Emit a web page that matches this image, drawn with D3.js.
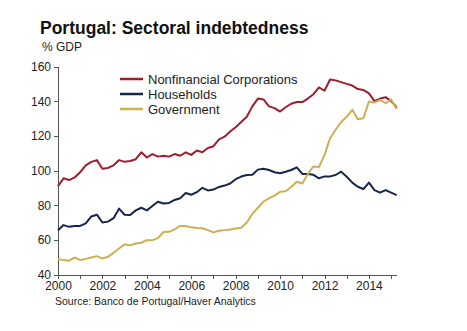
<!DOCTYPE html>
<html>
<head>
<meta charset="utf-8">
<script src="https://cdnjs.cloudflare.com/ajax/libs/d3/7.8.5/d3.min.js"></script>
<style>
  body { margin: 0; background: #fff; }
  svg { display: block; font-family: "Liberation Sans", Arial, sans-serif; }
  .axis path, .axis line { stroke: #555; shape-rendering: crispEdges; }
  .axis text { fill: #222; font-size: 12px; }
</style>
</head>
<body>
<div id="chart"></div>
<script>
// quarterly, 2000Q1 .. 2015Q2, % of GDP
var startYear = 2000;
var corporations = [91, 95.5, 94.5, 96, 99, 103, 105, 106, 101, 101.5,
  103, 106, 105, 105.5, 106.5, 110.5, 107.5, 109.5, 108, 108.5,
  108, 109.5, 108.5, 110.5, 109, 111.5, 110.5, 113, 114, 118,
  119.5, 122.5, 125, 128, 131, 137, 141.5, 141, 137, 136,
  134, 136.5, 138.5, 139.5, 139.5, 141.5, 144, 148, 146, 152.5,
  152, 151, 150, 149, 147, 146.5, 144.5, 140, 141.5, 142.3,
  140, 136.5];
var households = [65.5, 68.5, 67.5, 68, 68, 69.5, 73.5, 74.5, 70, 70.5,
  72.5, 78, 74.5, 74.3, 77, 78.5, 77, 79.5, 82, 81,
  81.3, 83, 84, 87, 86, 87.5, 90, 88.5, 89, 90.5,
  91.3, 92.5, 95, 96.5, 97.4, 97.5, 100.5, 101, 100.3, 99,
  98.4, 99.3, 100.3, 101.8, 98, 98, 97.5, 95.5, 96.6, 96.6,
  97.4, 99.3, 96.4, 93, 90.6, 89.3, 93, 88.7, 87.2, 88.7,
  87.2, 85.8];
var government = [49, 48.3, 48, 49.8, 48.3, 49, 49.8, 50.6, 49.2, 50.2,
  52.5, 55, 57.5, 56.8, 57.9, 58.3, 59.8, 59.8, 61, 64.5,
  64.6, 66, 68, 68, 67.2, 66.8, 66.7, 65.6, 64.3, 65.2,
  65.6, 66, 66.5, 67, 70, 75, 78.5, 82, 84, 85.5,
  87.7, 88, 90.5, 93.5, 92.5, 98, 102.3, 102, 109, 118.6,
  123.5, 128, 131, 135, 129.6, 130.2, 139.8, 139.2, 140.8, 138.8,
  141, 135.5];
var seriesNames = ["Nonfinancial Corporations", "Households", "Government"];
var seriesColors = ["#a01d2d", "#16264a", "#cdb052"];
var yTicks = [40, 60, 80, 100, 120, 140, 160];
var xLabelYears = [2000, 2002, 2004, 2006, 2008, 2010, 2012, 2014];

var width = 467, height = 331;

var svg = d3.select("#chart").append("svg")
    .attr("width", width)
    .attr("height", height);

var x = d3.scaleLinear()
    .domain([startYear, startYear + (corporations.length - 1) / 4])
    .range([58, 396.7]);

var y = d3.scaleLinear()
    .domain([40, 160])
    .range([274.5, 66.5]);

// axes
svg.append("g")
    .attr("class", "axis")
    .attr("transform", "translate(58,0)")
    .call(d3.axisLeft(y).tickValues(yTicks).tickSize(4).tickSizeOuter(0).tickPadding(3));

svg.append("g")
    .attr("class", "axis")
    .attr("transform", "translate(0,274.5)")
    .call(d3.axisBottom(x)
      .tickValues(d3.range(2000, 2016))
      .tickSize(4).tickSizeOuter(0).tickPadding(3)
      .tickFormat(function(d) { return xLabelYears.indexOf(d) >= 0 ? d : ""; }));

// lines
var line = d3.line()
    .x(function(d, i) { return x(startYear + i / 4); })
    .y(function(d) { return y(d); });

[corporations, households, government].forEach(function(s, k) {
  svg.append("path")
      .datum(s)
      .attr("fill", "none")
      .attr("stroke", seriesColors[k])
      .attr("stroke-width", 2)
      .attr("stroke-linejoin", "round")
      .attr("d", line);
});

// legend
var legend = svg.append("g").attr("transform", "translate(120,79)");
seriesNames.forEach(function(name, k) {
  var g = legend.append("g").attr("transform", "translate(0," + (k * 15) + ")");
  g.append("line")
      .attr("x1", 0).attr("x2", 23)
      .attr("stroke", seriesColors[k])
      .attr("stroke-width", 2.5);
  g.append("text")
      .attr("x", 28)
      .attr("dy", "0.35em")
      .style("font-size", "13px")
      .style("fill", "#222")
      .text(name);
});

// titles
svg.append("text")
    .attr("x", 40).attr("y", 34)
    .style("font-size", "17.5px")
    .style("font-weight", "bold")
    .style("fill", "#111")
    .text("Portugal: Sectoral indebtedness");

svg.append("text")
    .attr("x", 42).attr("y", 51)
    .style("font-size", "12px")
    .style("fill", "#222")
    .text("% GDP");

svg.append("text")
    .attr("x", 55).attr("y", 305)
    .style("font-size", "10.5px")
    .style("fill", "#222")
    .text("Source: Banco de Portugal/Haver Analytics");
</script>
</body>
</html>
